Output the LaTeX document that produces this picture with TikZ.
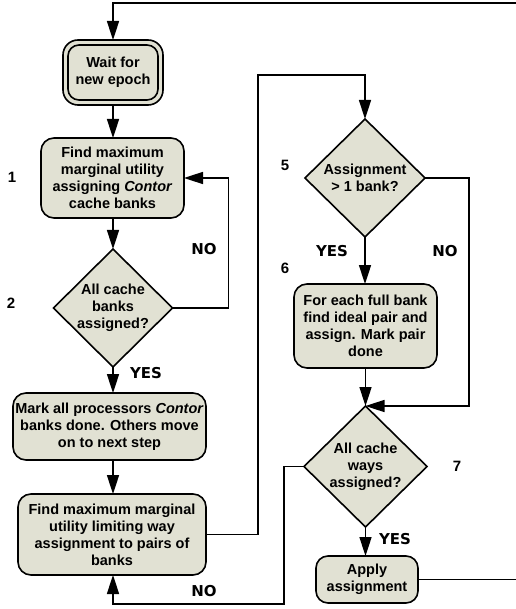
\documentclass[tikz,border=0pt]{standalone}
\usepackage{fontspec}
\setmainfont{Liberation Sans}
\newfontfamily\yesfont{DejaVu Sans}
\usetikzlibrary{shapes.geometric,arrows.meta,calc}
\definecolor{boxfill}{RGB}{225,225,211}
\begin{document}
\begin{tikzpicture}[x=1pt,y=-1pt,
  every node/.style={inner sep=0pt, outer sep=0pt},
  ln/.style={line width=1.6pt},
  arr/.style={line width=1.6pt,-{Triangle[length=19pt,width=12pt]}},
  rbox/.style={draw, line width=1.6pt, fill=boxfill, rounded corners=13pt, align=center,
    font=\fontsize{14.5}{17}\selectfont\bfseries},
  dia/.style={draw, line width=1.6pt, fill=boxfill, diamond},
  txt/.style={align=center, font=\fontsize{14.5}{17}\selectfont\bfseries},
  num/.style={font=\fontsize{15}{17}\selectfont\bfseries},
  yn/.style={font=\fontsize{15}{17}\selectfont\yesfont\bfseries}]
\useasboundingbox (0,0) rectangle (515,609);

% nodes
\node[rbox, minimum width=100pt, minimum height=65pt, rounded corners=15pt] (wait) at (113,72.5) {};
\draw[ln, rounded corners=11pt] ($(wait.north west)+(5,5)$) rectangle ($(wait.south east)+(-5,-5)$);
\node[txt] (waitt) at (wait) {Wait for\\new epoch};

\node[rbox, minimum width=143pt, minimum height=80pt] (box1) at (112.5,178)
  {Find maximum\\marginal utility\\assigning \textit{Contor}\\cache banks};
\node[dia, minimum width=119pt, minimum height=118pt] (d2) at (113,308) {};
\node[txt] (d2t) at (d2) {All cache\\banks\\assigned?};
\node[rbox, minimum width=193pt, minimum height=67pt] (box3) at (109.5,426.5)
  {Mark all processors \textit{Contor}\\banks done. Others move\\on to next step};
\node[rbox, minimum width=188pt, minimum height=81pt] (box4) at (112,534.5)
  {Find maximum marginal\\utility limiting way\\assignment to pairs of\\banks};

\node[dia, minimum width=120pt, minimum height=118pt] (d5) at (365,178) {};
\node[txt] (d5t) at (d5) {Assignment\\> 1 bank?};
\node[rbox, minimum width=143pt, minimum height=84pt] (box6) at (365.5,326)
  {For each full bank\\find ideal pair and\\assign. Mark pair\\done};
\node[dia, minimum width=123pt, minimum height=121pt] (d7) at (365.5,466.5) {};
\node[txt] (d7t) at (d7) {All cache\\ways\\assigned?};
\node[rbox, minimum width=102pt, minimum height=47pt, rounded corners=12pt] (apply) at (367,579.5)
  {Apply\\assignment};

% labels
\node[num] (n1) at (12,177) {1};
\node[num] (n2) at (11,303) {2};
\node[num] (n5) at (285,165) {5};
\node[num] (n6) at (285,268) {6};
\node[num] (n7) at (457,466) {7};
\node[yn] (yes2) at (146,373) {YES};
\node[yn] (no2) at (204,249) {NO};
\node[yn] (yes5) at (332,251) {YES};
\node[yn] (no5) at (445,251) {NO};
\node[yn] (yes7) at (395,539) {YES};
\node[yn] (no7) at (204,591) {NO};

% connectors
\coordinate (rr) at (518,3);
\draw[arr] (apply.east) -| (rr) -| (wait.north);
\draw[arr] (wait.south) -- (wait.south |- box1.north);
\draw[arr] (box1.south -| d2.north) -- (d2.north);
\draw[arr] (d2.east) -- ++(56,0) |- (box1.east);
\draw[arr] (d2.south) -- (d2.south |- box3.north);
\draw[arr] (d2.south |- box3.south) -- (d2.south |- box4.north);
\coordinate (c4) at (258,75);
\draw[arr] (box4.east) -| (c4) -| (d5.north);
\draw[arr] (d5.south) -- (d5.south |- box6.north);
\draw[arr] (d5.east) -- ++(44,0) |- (d7.north);
\draw[arr] (box6.south -| d7.north) -- (d7.north);
\coordinate (c7) at (284,604);
\draw[arr] (d7.west) -| (c7) -| (d2.south |- box4.south);
\draw[arr] (d7.south) -- (d7.south |- apply.north);
\end{tikzpicture}
\end{document}
